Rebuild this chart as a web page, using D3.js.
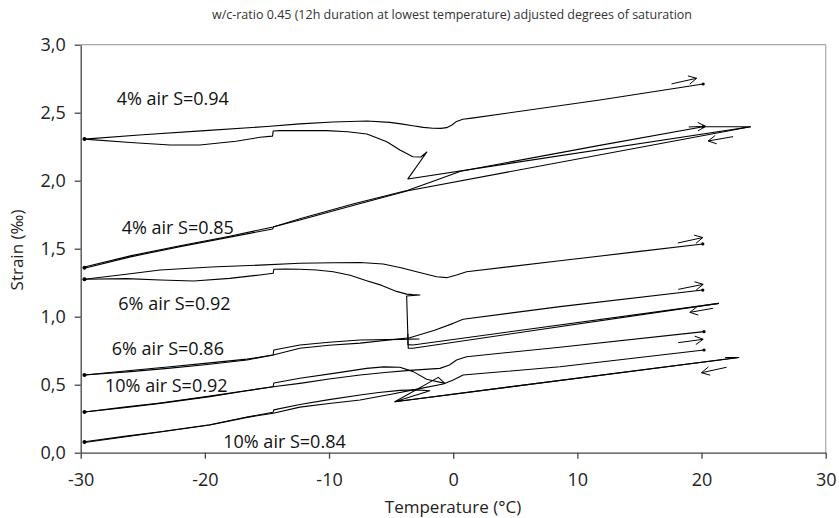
<!DOCTYPE html>
<html>
<head>
<meta charset="utf-8">
<script src="https://cdn.jsdelivr.net/npm/d3@7"></script>
<style>
  html, body { margin: 0; padding: 0; background: #fff; }
  svg { display: block; font-family: "Open Sans", "Noto Sans", sans-serif; }
</style>
</head>
<body>
<svg id="chart" width="839" height="518"></svg>
<script>
// ---------------- data ----------------
const titleText = "w/c-ratio 0.45 (12h duration at lowest temperature) adjusted degrees of saturation";
const xTitle = "Temperature (°C)";
const yTitle = "Strain (‰)";
const xTicks = [-30, -20, -10, 0, 10, 20, 30];
const xTickLabels = ["-30", "-20", "-10", "0", "10", "20", "30"];
const yTicks = [0, 0.5, 1.0, 1.5, 2.0, 2.5, 3.0];
const yTickLabels = ["0,0", "0,5", "1,0", "1,5", "2,0", "2,5", "3,0"];

// [temperature °C, strain ‰]
const a94Cool = [[20.1,2.397],[23.95,2.397],[-3.65,2.013],[-2.12,2.211],[-2.6,2.174],[-3.25,2.176],[-4.29,2.226],[-5.35,2.287],[-6.95,2.343],[-8.5,2.36],[-10.19,2.368],[-12.35,2.368],[-13.95,2.368],[-14.5,2.365],[-14.55,2.328],[-15.56,2.319],[-17.5,2.29],[-20.4,2.262],[-22.8,2.262],[-26.0,2.281],[-29.7,2.306]];
const a94Heat = [[-29.7,2.306],[-25,2.338],[-20,2.368],[-15,2.398],[-12.35,2.418],[-9.69,2.432],[-6.95,2.439],[-5.1,2.429],[-4.2,2.418],[-3.25,2.404],[-2.4,2.392],[-1.63,2.386],[-1.0,2.385],[-0.53,2.39],[-0.1,2.41],[0.27,2.436],[0.78,2.452],[1.5,2.46],[11.81,2.593],[20.13,2.711]];
const b85Cool = [[23.95,2.397],[-3.65,1.926],[-8,1.82],[-12.35,1.711],[-14.45,1.662],[-14.55,1.645],[-18,1.585],[-22,1.515],[-26,1.44],[-29.7,1.356]];
const b85Heat = [[-29.7,1.365],[-26,1.447],[-22,1.522],[-18,1.592],[-14.5,1.66],[-12.35,1.72],[-8,1.83],[-3.65,1.93],[-1.5,2.0],[0.6,2.07],[11.8,2.26],[20.13,2.397]];
const c92Cool = [[21.4,1.098],[-3.25,0.768],[-3.62,0.768],[-3.75,1.152],[-2.68,1.16],[-3.3,1.162],[-3.75,1.166],[-4.56,1.186],[-5.8,1.232],[-6.97,1.265],[-8.3,1.305],[-9.66,1.331],[-11,1.343],[-12.35,1.349],[-13.5,1.351],[-14.45,1.349],[-14.5,1.319],[-15.56,1.307],[-18,1.282],[-20.9,1.262],[-23.6,1.27],[-26.3,1.28],[-29.7,1.275]];
const c92Heat = [[-29.7,1.275],[-26.5,1.31],[-23.6,1.343],[-19.5,1.365],[-15.6,1.379],[-12.35,1.393],[-9.66,1.397],[-7.5,1.398],[-5.64,1.388],[-4.2,1.36],[-2.95,1.331],[-1.34,1.294],[-0.53,1.287],[0.27,1.307],[1.08,1.331],[8.59,1.411],[15.03,1.48],[20.1,1.535]];
const d86Cool = [[21.4,1.098],[-3.25,0.792],[-3.65,0.795],[-3.65,0.872],[-3.65,0.838],[-2.75,0.836],[-4.2,0.833],[-7.5,0.829],[-10,0.812],[-12.35,0.792],[-14.45,0.755],[-14.5,0.718],[-16.6,0.682],[-20,0.647],[-23,0.62],[-26,0.596],[-29.7,0.571]];
const d86Heat = [[-29.7,0.571],[-26,0.604],[-23,0.63],[-20,0.657],[-16.6,0.688],[-14.5,0.718],[-12.35,0.768],[-10,0.79],[-7.5,0.806],[-3.5,0.845],[-1.5,0.9],[0,0.951],[0.8,0.981],[8.6,1.074],[20.1,1.196]];
const e92Cool = [[21.9,0.70],[23.0,0.70],[-4.7,0.375],[-1.2,0.554],[-0.67,0.51],[-2.14,0.54],[-3.22,0.596],[-4.29,0.628],[-5.6,0.631],[-6.97,0.62],[-9.5,0.585],[-12.35,0.547],[-14.45,0.512],[-14.5,0.485],[-17,0.45],[-19.6,0.412],[-23.6,0.363],[-26.5,0.33],[-29.7,0.299]];
const e92Heat = [[-29.7,0.299],[-26.5,0.335],[-23.6,0.366],[-19.6,0.416],[-17,0.452],[-14.5,0.485],[-12.35,0.51],[-10,0.542],[-7.5,0.571],[-5.5,0.59],[-3.5,0.605],[-1.07,0.62],[-0.3,0.645],[0.27,0.682],[1.08,0.706],[8.59,0.775],[20.2,0.89]];
const f84Cool = [[23.0,0.70],[-4.7,0.375],[-1.88,0.456],[-3.0,0.462],[-4.29,0.458],[-6,0.443],[-7.5,0.424],[-10,0.39],[-12.35,0.355],[-14.45,0.315],[-14.5,0.298],[-16.6,0.262],[-19.6,0.206],[-23.6,0.154],[-26.5,0.12],[-29.7,0.081]];
const f84Heat = [[-29.7,0.075],[-26.5,0.115],[-23.6,0.152],[-19.6,0.204],[-16.6,0.26],[-14.5,0.29],[-12.35,0.335],[-10,0.362],[-7.5,0.388],[-5,0.43],[-2.5,0.475],[-0.8,0.505],[0,0.535],[0.8,0.571],[8.59,0.632],[20.2,0.755]];

const curves = [a94Cool, a94Heat, b85Cool, b85Heat, c92Cool, c92Heat, d86Cool, d86Heat, e92Cool, e92Heat, f84Cool, f84Heat];
const endDots = [[20.13,2.711],[20.13,2.397],[20.1,1.535],[20.1,1.196],[20.2,0.89],[20.2,0.755]];
const startDots = [[-29.7,2.306],[-29.7,1.36],[-29.7,1.275],[-29.7,0.571],[-29.7,0.299],[-29.7,0.078]];

const curveLabels = ["4% air S=0.94", "4% air S=0.85", "6% air S=0.92", "6% air S=0.86", "10% air S=0.92", "10% air S=0.84"];
const labelAt = [[-27.1,2.56],[-26.7,1.608],[-26.97,1.049],[-27.5,0.715],[-28.04,0.443],[-18.52,0.038]];

// arrows: [tailT, tailS, headT, headS]
const arrows = [[17.58,2.712,19.6,2.753],[18.97,2.395,20.34,2.40],[22.54,2.324,20.53,2.292],
                [18.09,1.542,20.1,1.582],[18.12,1.201,20.13,1.238],[20.93,1.062,19.06,1.032],
                [18.12,0.809,20.13,0.834],[22.01,0.628,20.0,0.588]];

// ---------------- drawing ----------------
const svg = d3.select("#chart");
const L = 80.7, R = 825.7, T = 44.7, B = 452.7;
const x = d3.scaleLinear().domain([-30, 30]).range([L, R]);
const y = d3.scaleLinear().domain([0, 3]).range([B, T]);

// title
svg.append("text").attr("x", 452).attr("y", 19).attr("text-anchor", "middle")
  .attr("font-size", 12.5).attr("fill", "#333").text(titleText);

// frame (top & right light gray)
svg.append("line").attr("x1", L).attr("x2", R).attr("y1", T).attr("y2", T).attr("stroke", "#a8a8a8").attr("stroke-width", 1.2);
svg.append("line").attr("x1", R).attr("x2", R).attr("y1", T).attr("y2", B).attr("stroke", "#a8a8a8").attr("stroke-width", 1.2);

// axes
const xAxis = d3.axisBottom(x).tickValues(xTicks).tickFormat((d, i) => xTickLabels[i]).tickSize(6).tickSizeOuter(0).tickPadding(15);
const yAxis = d3.axisLeft(y).tickValues(yTicks).tickFormat((d, i) => yTickLabels[i]).tickSize(6).tickSizeOuter(0).tickPadding(9);
const gx = svg.append("g").attr("transform", `translate(0,${B})`).call(xAxis);
const gy = svg.append("g").attr("transform", `translate(${L},0)`).call(yAxis);
[gx, gy].forEach(g => {
  g.selectAll(".domain, .tick line").attr("stroke", "#444").attr("stroke-width", 1.3);
  g.selectAll("text").attr("font-size", 18).attr("fill", "#222").attr("font-family", "'Open Sans', sans-serif");
});

// axis titles
svg.append("text").attr("x", 453).attr("y", 513).attr("text-anchor", "middle")
  .attr("font-size", 17).attr("fill", "#222").text(xTitle);
svg.append("text").attr("transform", "translate(23,250) rotate(-90)").attr("text-anchor", "middle")
  .attr("font-size", 17).attr("fill", "#222").text(yTitle);

// curves
const line = d3.line().x(d => x(d[0])).y(d => y(d[1]));
const plot = svg.append("g");
plot.selectAll("path.curve").data(curves).join("path").attr("class", "curve")
  .attr("d", line).attr("fill", "none").attr("stroke", "#000").attr("stroke-width", 1.1)
  .attr("stroke-linejoin", "round");

plot.selectAll("circle.end").data(endDots).join("circle").attr("class", "end")
  .attr("cx", d => x(d[0])).attr("cy", d => y(d[1])).attr("r", 1.6).attr("fill", "#000");
plot.selectAll("circle.start").data(startDots).join("circle").attr("class", "start")
  .attr("cx", d => x(d[0])).attr("cy", d => y(d[1])).attr("r", 2).attr("fill", "#000");

// arrows
const arm = 9, ang = 28 * Math.PI / 180;
plot.selectAll("path.arrow").data(arrows).join("path").attr("class", "arrow")
  .attr("d", a => {
    const x1 = x(a[0]), y1 = y(a[1]), x2 = x(a[2]), y2 = y(a[3]);
    const th = Math.atan2(y2 - y1, x2 - x1);
    const ax1 = x2 - arm * Math.cos(th - ang), ay1 = y2 - arm * Math.sin(th - ang);
    const ax2 = x2 - arm * Math.cos(th + ang), ay2 = y2 - arm * Math.sin(th + ang);
    return `M${x1},${y1}L${x2},${y2}M${ax1},${ay1}L${x2},${y2}L${ax2},${ay2}`;
  })
  .attr("fill", "none").attr("stroke", "#000").attr("stroke-width", 1);

// labels
svg.selectAll("text.lab").data(curveLabels).join("text").attr("class", "lab")
  .attr("x", (d, i) => x(labelAt[i][0])).attr("y", (d, i) => y(labelAt[i][1]))
  .attr("font-size", 18).attr("fill", "#111").text(d => d);
</script>
</body>
</html>
